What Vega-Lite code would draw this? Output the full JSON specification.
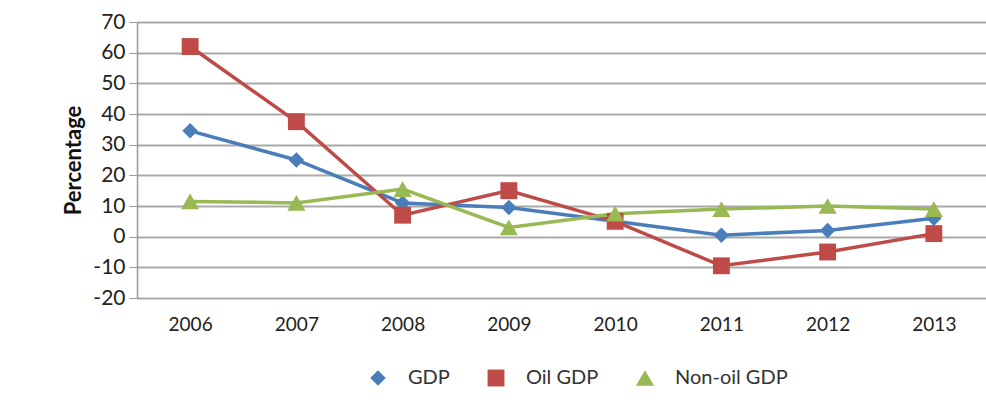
{
  "$schema": "https://vega.github.io/schema/vega-lite/v6.json",
  "autosize": "none",
  "width": 850,
  "height": 276,
  "padding": {"left": 137, "top": 22, "right": 0, "bottom": 106},
  "background": "white",
  "config": {
    "view": {"stroke": null},
    "font": "Lato",
    "axis": {"labelFont": "Lato", "titleFont": "Lato", "labelColor": "#222", "titleColor": "#111"}
  },
  "data": {
    "values": [
      {"year": "2006", "series": "GDP", "value": 34.5},
      {"year": "2007", "series": "GDP", "value": 25},
      {"year": "2008", "series": "GDP", "value": 11},
      {"year": "2009", "series": "GDP", "value": 9.5},
      {"year": "2010", "series": "GDP", "value": 5},
      {"year": "2011", "series": "GDP", "value": 0.5},
      {"year": "2012", "series": "GDP", "value": 2},
      {"year": "2013", "series": "GDP", "value": 6},
      {"year": "2006", "series": "Oil GDP", "value": 62},
      {"year": "2007", "series": "Oil GDP", "value": 37.5},
      {"year": "2008", "series": "Oil GDP", "value": 7},
      {"year": "2009", "series": "Oil GDP", "value": 15},
      {"year": "2010", "series": "Oil GDP", "value": 5},
      {"year": "2011", "series": "Oil GDP", "value": -9.5},
      {"year": "2012", "series": "Oil GDP", "value": -5},
      {"year": "2013", "series": "Oil GDP", "value": 1},
      {"year": "2006", "series": "Non-oil GDP", "value": 11.5},
      {"year": "2007", "series": "Non-oil GDP", "value": 11},
      {"year": "2008", "series": "Non-oil GDP", "value": 15.5},
      {"year": "2009", "series": "Non-oil GDP", "value": 3},
      {"year": "2010", "series": "Non-oil GDP", "value": 7.5},
      {"year": "2011", "series": "Non-oil GDP", "value": 9},
      {"year": "2012", "series": "Non-oil GDP", "value": 10},
      {"year": "2013", "series": "Non-oil GDP", "value": 9}
    ]
  },
  "encoding": {
    "x": {
      "field": "year", "type": "ordinal",
      "scale": {"type": "point", "padding": 0.5},
      "axis": {"title": null, "labelAngle": 0, "labelFontSize": 19, "labelPadding": 17, "domain": false, "ticks": false, "grid": false}
    },
    "y": {
      "field": "value", "type": "quantitative",
      "scale": {"domain": [-20, 70], "nice": false},
      "axis": {
        "title": "Percentage", "titleFontSize": 22, "titleFontWeight": "bold", "titlePadding": 7,
        "values": [-20, -10, 0, 10, 20, 30, 40, 50, 60, 70],
        "labelExpr": "'' + datum.value",
        "labelFontSize": 21, "labelPadding": 4,
        "tickSize": 8, "tickColor": "#999", "domainColor": "#999", "domainWidth": 1.5,
        "grid": true, "gridColor": "#aaa", "gridWidth": 1.8
      }
    }
  },
  "layer": [
    {
      "mark": {"type": "line", "strokeWidth": 3.5},
      "encoding": {
        "color": {
          "field": "series", "type": "nominal",
          "scale": {"domain": ["GDP", "Oil GDP", "Non-oil GDP"], "range": ["#4A7EBB", "#BE4B48", "#98B954"]},
          "legend": {
            "title": null, "orient": "none", "direction": "horizontal", "legendX": 231, "legendY": 346,
            "labelFontSize": 20, "labelColor": "#333", "labelOffset": 20,
            "symbolSize": 170, "columnPadding": 36, "symbolStrokeWidth": 0
          }
        }
      }
    },
    {
      "mark": {"type": "point", "filled": true, "opacity": 1},
      "encoding": {
        "fill": {
          "field": "series", "type": "nominal",
          "scale": {"domain": ["GDP", "Oil GDP", "Non-oil GDP"], "range": ["#4A7EBB", "#BE4B48", "#98B954"]},
          "legend": null
        },
        "shape": {
          "field": "series", "type": "nominal",
          "scale": {"domain": ["GDP", "Oil GDP", "Non-oil GDP"], "range": ["diamond", "square", "triangle-up"]},
          "legend": null
        },
        "size": {
          "field": "series", "type": "nominal",
          "scale": {"domain": ["GDP", "Oil GDP", "Non-oil GDP"], "range": [240, 330, 230]},
          "legend": null
        }
      }
    }
  ]
}
